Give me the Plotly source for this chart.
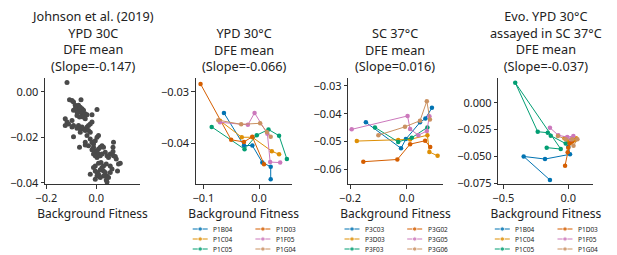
import plotly.graph_objects as go

# page body has an 8px default margin; figure is sized to fill the rest of the 617x255 window
PAGE_W, PAGE_H, OFF = 617, 255, 8
W, H = PAGE_W - OFF, PAGE_H - OFF
FONT = "Noto Sans"
TXT = "#222222"
PALETTE = ['#0173b2', '#de8f05', '#029e73', '#d55e00', '#cc78bc', '#ca9161']

# ---------------- Panel 1: Johnson et al. (2019) ----------------
johnson_x = [-0.117, -0.107, -0.097, -0.091, -0.061, -0.084, -0.077, -0.071, -0.064, -0.057,
             -0.051, -0.071, -0.064, -0.077, -0.084, -0.057, -0.051, -0.044, -0.053, -0.067,
             -0.077, -0.091, -0.044, -0.037, -0.017, 0.003, -0.124, -0.117, -0.124, -0.111,
             -0.097, -0.091, -0.097, -0.077, -0.071, -0.064, -0.057, -0.051, -0.044, -0.037,
             -0.031, -0.024, -0.017, -0.031, -0.024, -0.064, -0.091, -0.037, -0.024, -0.017,
             -0.011, -0.004, 0.003, 0.009, -0.044, -0.011, -0.017, -0.004, 0.003, 0.009,
             0.016, 0.023, 0.029, -0.067, -0.044, -0.031, -0.011, -0.004, 0.003, 0.009,
             0.016, 0.023, 0.036, 0.043, 0.049, 0.056, 0.069, 0.067, 0.063, 0.069,
             0.076, 0.067, 0.080, 0.089, 0.096, 0.085, 0.063, 0.056, 0.040, 0.029,
             0.019, 0.009, -0.004, -0.011, -0.004, 0.003, 0.009, 0.016, 0.023, 0.029,
             0.036, 0.043, 0.049, 0.040, 0.029, 0.016, 0.003, -0.024, 0.056, -0.004, 0.043]
johnson_y = [0.0042, -0.0034, -0.0038, -0.0044, -0.0034, -0.0059, -0.0067, -0.0059, -0.0067, -0.0074,
             -0.0081, -0.0081, -0.0089, -0.0089, -0.0074, -0.0096, -0.0104, -0.0096, -0.0111, -0.0111,
             -0.0104, -0.0081, -0.0118, -0.0101, -0.0101, -0.0078, -0.0118, -0.0133, -0.0148, -0.0141,
             -0.0126, -0.0148, -0.0155, -0.0160, -0.0148, -0.0163, -0.0155, -0.0163, -0.0170, -0.0155,
             -0.0148, -0.0141, -0.0133, -0.0170, -0.0178, -0.0178, -0.0197, -0.0192, -0.0207, -0.0222,
             -0.0229, -0.0215, -0.0200, -0.0192, -0.0222, -0.0244, -0.0255, -0.0259, -0.0266, -0.0252,
             -0.0244, -0.0237, -0.0244, -0.0244, -0.0234, -0.0237, -0.0274, -0.0281, -0.0289, -0.0274,
             -0.0281, -0.0274, -0.0266, -0.0281, -0.0289, -0.0274, -0.0222, -0.0244, -0.0274, -0.0281,
             -0.0284, -0.0263, -0.0296, -0.0318, -0.0314, -0.0348, -0.0340, -0.0326, -0.0318, -0.0326,
             -0.0311, -0.0314, -0.0326, -0.0333, -0.0348, -0.0355, -0.0363, -0.0343, -0.0333, -0.0348,
             -0.0355, -0.0370, -0.0377, -0.0388, -0.0370, -0.0377, -0.0370, -0.0363, -0.0355, -0.0385, -0.0397]

# ---------------- Panel 2: YPD 30°C ----------------
ypd_labels = ['P1B04', 'P1C04', 'P1C05', 'P1D03', 'P1F05', 'P1G04']
ypd30_x = [[-0.063, -0.027, -0.012, 0.006, 0.021, 0.021],
           [-0.070, -0.031, -0.012, 0.023, 0.036],
           [-0.085, -0.026, -0.004, 0.017, 0.036, 0.050],
           [-0.105, -0.050, -0.027, -0.012, 0.009],
           [-0.070, -0.020, -0.008, 0.015, 0.020, 0.038],
           [-0.073, -0.032, 0.002, 0.014, 0.021]]
ypd30_y = [[-0.0341, -0.0404, -0.0404, -0.0437, -0.0445, -0.0469],
           [-0.0356, -0.0388, -0.0388, -0.0415, -0.0421],
           [-0.0368, -0.0411, -0.0384, -0.0373, -0.0385, -0.0430],
           [-0.0285, -0.0393, -0.0397, -0.0387, -0.0440],
           [-0.0359, -0.0364, -0.0341, -0.0381, -0.0436, -0.0437],
           [-0.0355, -0.0363, -0.0361, -0.0378, -0.0387]]

# ---------------- Panel 3: SC 37°C ----------------
sc_labels = ['P3C03', 'P3D03', 'P3F03', 'P3G02', 'P3G05', 'P3G06']
sc37_x = [[-0.144, -0.020, -0.003, 0.047, 0.066, 0.089],
          [-0.176, -0.030, 0.012, 0.073, 0.080, 0.109],
          [-0.112, -0.030, 0.018, 0.073],
          [-0.153, -0.033, 0.012, 0.065, 0.083],
          [-0.194, 0.003, 0.012, 0.041, 0.071, 0.080],
          [-0.100, -0.006, 0.047, 0.071, 0.082]]
sc37_y = [[-0.0431, -0.0524, -0.0491, -0.0431, -0.0417, -0.0379],
          [-0.0498, -0.0494, -0.0492, -0.0477, -0.0537, -0.0551],
          [-0.0449, -0.0501, -0.0486, -0.0449],
          [-0.0572, -0.0564, -0.0509, -0.0497, -0.0519],
          [-0.0456, -0.0408, -0.0455, -0.0477, -0.0462, -0.0409],
          [-0.0477, -0.0447, -0.0425, -0.0355, -0.0421]]

# ---------------- Panel 4: Evo. YPD 30°C assayed in SC 37°C ----------------
evo_labels = ['P1B04', 'P1C04', 'P1C05', 'P1D03', 'P1F05', 'P1G04']
evo_x = [[-0.141, -0.343, -0.179, 0.013, 0.000],
         [-0.030, 0.000, 0.020, 0.050, 0.060],
         [-0.166, -0.058, -0.408, -0.235, -0.158, -0.135, -0.020],
         [-0.025, -0.005, 0.000, 0.010, 0.030],
         [-0.141, -0.077, -0.008, 0.039, 0.020],
         [-0.080, -0.020, 0.030, 0.070, 0.040]]
evo_y = [[-0.0719, -0.0500, -0.0524, -0.0480, -0.0410],
         [-0.0330, -0.0360, -0.0370, -0.0350, -0.0330],
         [-0.0418, -0.0431, 0.0186, -0.0270, -0.0279, -0.0307, -0.0380],
         [-0.0586, -0.0460, -0.0420, -0.0380, -0.0360],
         [-0.0233, -0.0303, -0.0320, -0.0310, -0.0340],
         [-0.0310, -0.0340, -0.0340, -0.0340, -0.0400]]

titles = [["Johnson et al. (2019)", "YPD 30C", "DFE mean", "(Slope=-0.147)"],
          ["YPD 30°C", "DFE mean", "(Slope=-0.066)"],
          ["SC 37°C", "DFE mean", "(Slope=0.016)"],
          ["Evo. YPD 30°C", "assayed in SC 37°C", "DFE mean", "(Slope=-0.037)"]]
x_label = "Background Fitness"

# axis value ranges and ticks
x_ranges = [[-0.205, 0.175], [-0.1137, 0.0587], [-0.206, 0.127], [-0.538, 0.192]]
y_ranges = [[-0.0407, 0.006], [-0.0479, -0.0274], [-0.0653, -0.0273], [-0.0759, 0.0227]]
x_ticks = [[-0.2, 0.0], [-0.1, 0.0], [-0.2, 0.0], [-0.5, 0.0]]
y_ticks = [[0.0, -0.02, -0.04], [-0.03, -0.04], [-0.03, -0.04, -0.05, -0.06],
           [0.0, -0.025, -0.05, -0.075]]
x_fmt = ['.1f', '.1f', '.1f', '.1f']
y_fmt = ['.2f', '.2f', '.2f', '.3f']

# layout boxes in window pixels
px_left = [45, 195.7, 348.3, 498.3]
px_right = [140, 291.7, 442.7, 593.3]
px_top, px_bottom = 78.3, 184.3


def fx(X):
    return (X - OFF) / W


def fy(Y):
    return 1 - (Y - OFF) / H


fig = go.Figure()

fig.add_trace(go.Scatter(x=johnson_x, y=johnson_y, mode='markers', xaxis='x', yaxis='y',
                         marker=dict(color='#4a4a4a', size=5, line=dict(width=0)),
                         showlegend=False, cliponaxis=False))

panels = [(ypd30_x, ypd30_y, ypd_labels), (sc37_x, sc37_y, sc_labels), (evo_x, evo_y, evo_labels)]
for p, (xs, ys, labs) in enumerate(panels):
    ax = p + 2
    for i, lab in enumerate(labs):
        fig.add_trace(go.Scatter(x=xs[i], y=ys[i], mode='lines+markers', name=lab,
                                 xaxis=f'x{ax}', yaxis=f'y{ax}',
                                 line=dict(color=PALETTE[i], width=1),
                                 marker=dict(color=PALETTE[i], size=4.5),
                                 showlegend=False, cliponaxis=False))

layout = dict(width=W, height=H, margin=dict(l=0, r=0, t=0, b=0, autoexpand=False),
              paper_bgcolor='white', plot_bgcolor='white',
              font=dict(family=FONT, color=TXT, size=11), showlegend=False)

annotations = []
for k in range(4):
    sx = '' if k == 0 else str(k + 1)
    common = dict(showline=True, linecolor='#333333', linewidth=0.9, ticks='outside',
                  ticklen=3.5, tickwidth=0.9, tickcolor='#333333', showgrid=False,
                  zeroline=False, automargin=False,
                  tickfont=dict(size=11, family=FONT, color=TXT))
    layout[f'xaxis{sx}'] = dict(domain=[fx(px_left[k]), fx(px_right[k])], range=x_ranges[k],
                                tickvals=x_ticks[k], tickformat=x_fmt[k], anchor=f'y{sx}',
                                title=dict(text=x_label, font=dict(size=12, family=FONT, color=TXT),
                                           standoff=0), **common)
    layout[f'yaxis{sx}'] = dict(domain=[fy(px_bottom), fy(px_top)], range=y_ranges[k],
                                tickvals=y_ticks[k], tickformat=y_fmt[k], anchor=f'x{sx}', **common)
    cx = fx((px_left[k] + px_right[k]) / 2)
    annotations.append(dict(text="<br>".join(titles[k]), xref='paper', yref='paper', x=cx,
                            y=fy(76.0), xanchor='center', yanchor='bottom', showarrow=False,
                            align='center', borderpad=0,
                            font=dict(size=12.7, family=FONT, color=TXT)))

# compact two-column legends under panels 2-4 (hidden helper axes)
for p, (xs, ys, labs) in enumerate(panels):
    k = p + 1
    lx = 5 + p
    cxp = (px_left[k] + px_right[k]) / 2
    layout[f'xaxis{lx}'] = dict(domain=[fx(cxp - 56), fx(cxp + 56)], range=[-56, 56],
                                visible=False, anchor=f'y{lx}', fixedrange=True, automargin=False)
    layout[f'yaxis{lx}'] = dict(domain=[fy(254), fy(224)], range=[2.5, -0.5],
                                visible=False, anchor=f'x{lx}', fixedrange=True, automargin=False)
    for i, lab in enumerate(labs):
        col, row = i // 3, i % 3
        x0 = -51 + col * 62.7
        fig.add_trace(go.Scatter(x=[x0, x0 + 7.5, x0 + 15], y=[row, row, row],
                                 mode='lines+markers', xaxis=f'x{lx}', yaxis=f'y{lx}',
                                 line=dict(color=PALETTE[i], width=1),
                                 marker=dict(color=PALETTE[i], size=[0, 4.5, 0]),
                                 showlegend=False, hoverinfo='skip', cliponaxis=False))
        annotations.append(dict(text=lab, xref=f'x{lx}', yref=f'y{lx}', x=x0 + 18.5, y=row,
                                xanchor='left', yanchor='middle', showarrow=False,
                                font=dict(size=6.5, family=FONT, color=TXT)))

layout['annotations'] = annotations
fig.update_layout(**layout)
fig.write_html("out.html")
